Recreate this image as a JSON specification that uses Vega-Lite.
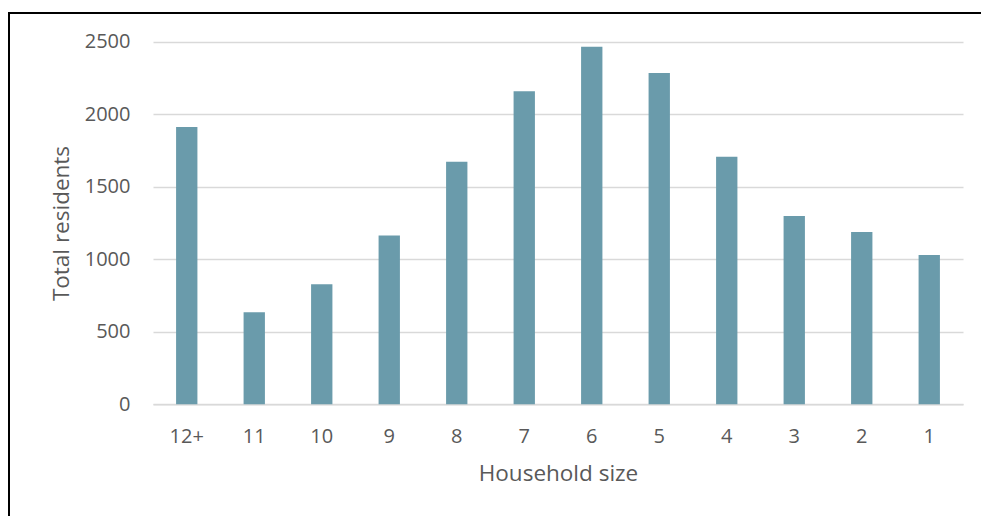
{
  "$schema": "https://vega.github.io/schema/vega-lite/v6.json",
  "width": 1000,
  "height": 520,
  "autosize": {"type": "none"},
  "padding": {"left": 9, "top": 13, "right": 0, "bottom": 0},
  "background": "white",
  "config": {
    "view": {"stroke": "#000000", "strokeWidth": 2},
    "font": "Open Sans"
  },
  "data": {
    "values": [
      {"size": "12+", "residents": 1912},
      {"size": "11", "residents": 634},
      {"size": "10", "residents": 827},
      {"size": "9", "residents": 1163},
      {"size": "8", "residents": 1673},
      {"size": "7", "residents": 2158},
      {"size": "6", "residents": 2466},
      {"size": "5", "residents": 2284},
      {"size": "4", "residents": 1707},
      {"size": "3", "residents": 1298},
      {"size": "2", "residents": 1188},
      {"size": "1", "residents": 1029}
    ]
  },
  "mark": {"type": "bar", "color": "#6a9bab"},
  "encoding": {
    "x": {
      "field": "size",
      "type": "ordinal",
      "sort": null,
      "scale": {"range": [144, 954], "paddingInner": 0.684, "paddingOuter": 0.342},
      "axis": {
        "title": "Household size",
        "offset": -128.7,
        "grid": false,
        "ticks": false,
        "domainColor": "#d9d9d9",
        "domainWidth": 1.5,
        "labelAngle": 0,
        "labelFontSize": 20,
        "labelColor": "#595959",
        "labelPadding": 22,
        "titleFontSize": 22.5,
        "titleFontWeight": "normal",
        "titleColor": "#595959",
        "titlePadding": 16
      }
    },
    "y": {
      "field": "residents",
      "type": "quantitative",
      "scale": {"domain": [0, 2500], "range": [391.3, 28.7], "nice": false},
      "axis": {
        "title": "Total residents",
        "offset": -144,
        "values": [0, 500, 1000, 1500, 2000, 2500],
        "format": "d",
        "domain": false,
        "ticks": false,
        "grid": true,
        "gridColor": "#d9d9d9",
        "gridWidth": 1.5,
        "labelFontSize": 20,
        "labelColor": "#595959",
        "labelPadding": 23,
        "titleFontSize": 22.5,
        "titleFontWeight": "normal",
        "titleColor": "#595959",
        "titlePadding": 11
      }
    }
  }
}
